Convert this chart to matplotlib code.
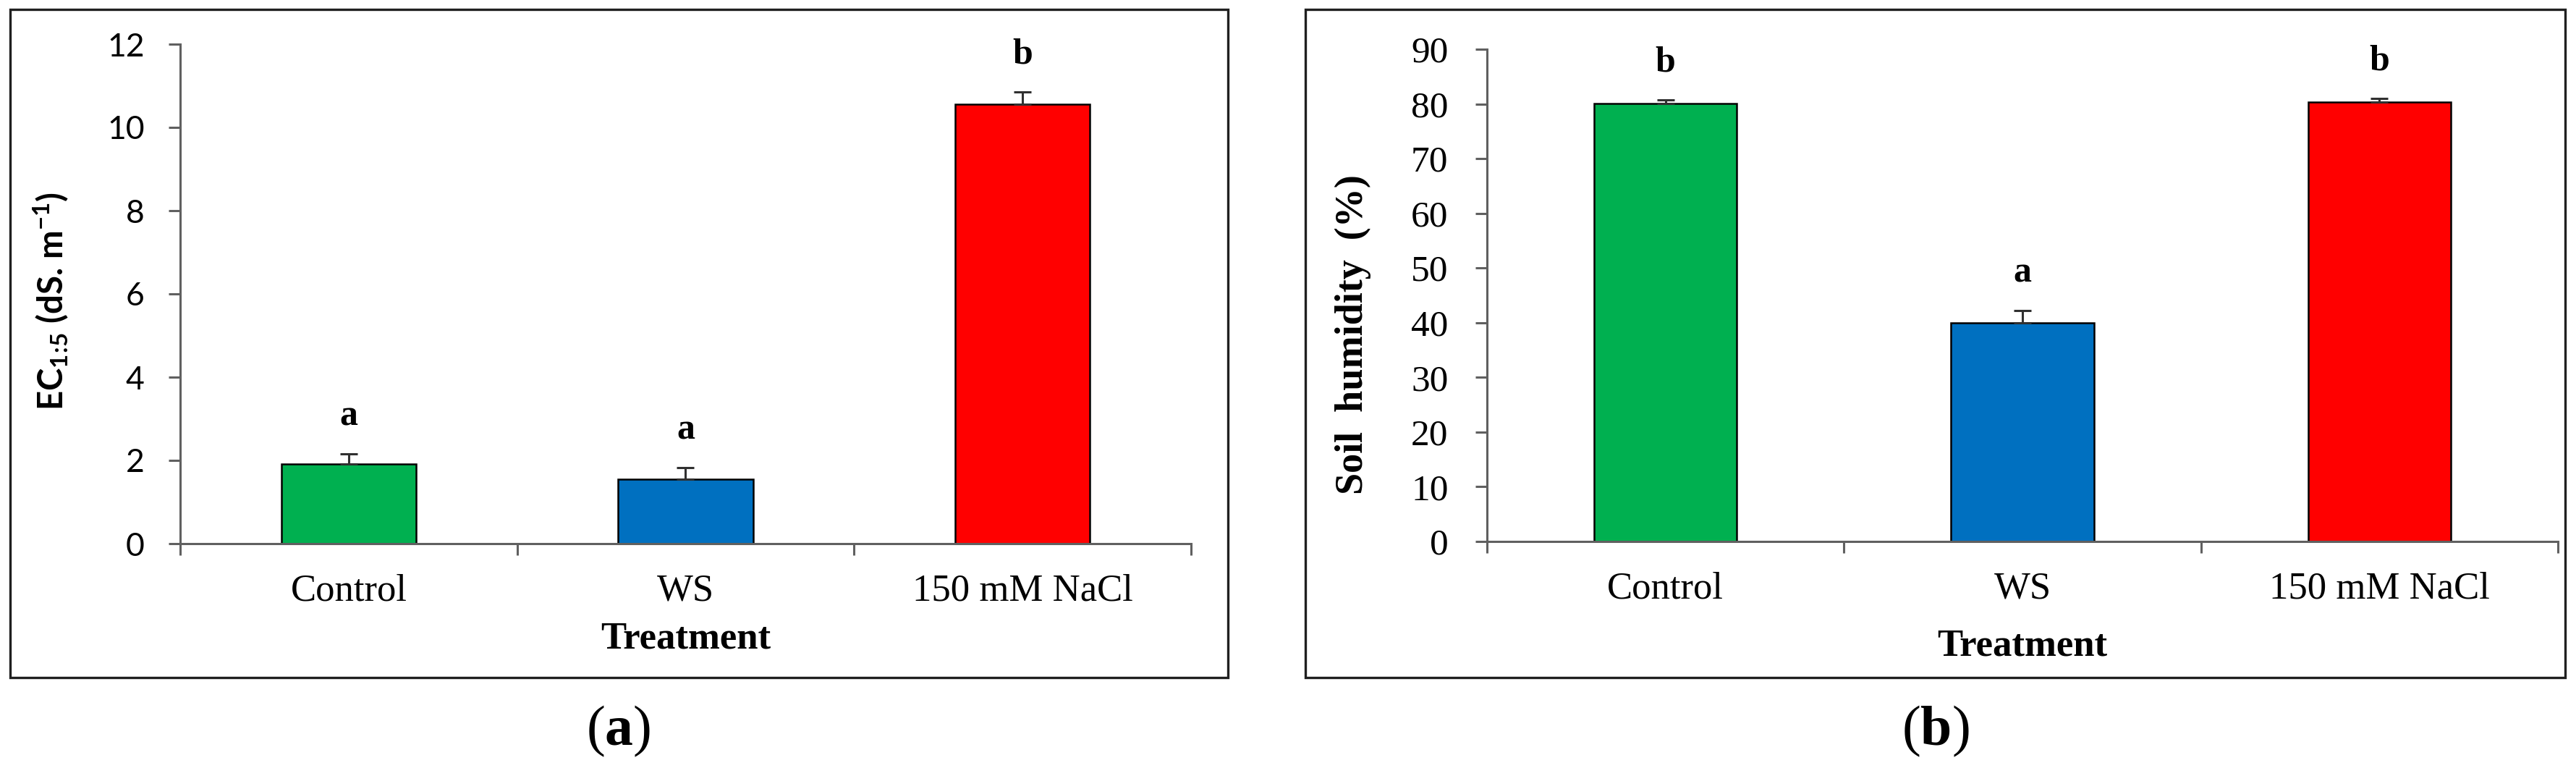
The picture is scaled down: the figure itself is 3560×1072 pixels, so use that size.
import matplotlib
matplotlib.use("Agg")
import matplotlib.pyplot as plt
import matplotlib.patches as patches
import numpy as np

plt.rcParams['mathtext.fontset'] = 'custom'
plt.rcParams['mathtext.bf'] = 'Liberation Serif:bold'
plt.rcParams['mathtext.default'] = 'regular'

treatments = ['Control', 'WS', '150 mM NaCl']
bar_colors = ['#00B050', '#0070C0', '#FF0000']

ec_mean = [1.92, 1.55, 10.56]
ec_err = [0.24, 0.27, 0.30]
ec_letters = ['a', 'a', 'b']

hum_mean = [80.1, 40.0, 80.4]
hum_err = [0.6, 2.25, 0.6]
hum_letters = ['b', 'a', 'b']

SERIF = 'Liberation Serif'
W, H = 3560, 1072

fig = plt.figure(figsize=(W / 100, H / 100), dpi=100)


def px_box(x0, y0, x1, y1):
    # pixel corners -> figure fraction rect
    return [x0 / W, 1 - y1 / H, (x1 - x0) / W, (y1 - y0) / H]


def draw_panel(rect, means, errs, letters, yticks, tick_font, tick_size, tick_pad):
    ax = fig.add_axes(rect)
    x = np.arange(len(treatments))
    ax.bar(x, means, width=0.4, color=bar_colors, edgecolor='black', linewidth=1.8, zorder=2)
    ax.errorbar(x, means, yerr=[np.zeros(len(errs)), errs], fmt='none', ecolor='#303030',
                elinewidth=2.2, capsize=8.5, capthick=2.2, zorder=3)
    for xi, m, e, lt in zip(x, means, errs, letters):
        ax.annotate(lt, (xi, m + e), xytext=(0, 37), textcoords='offset points',
                    ha='center', va='center', fontsize=36, fontweight='bold', family=SERIF)
    ax.set_xlim(-0.5, len(treatments) - 0.5)
    ax.set_ylim(yticks[0], yticks[-1])
    ax.set_yticks(yticks)
    ax.set_yticklabels([str(v) for v in yticks], family=tick_font, fontsize=tick_size)
    ax.set_xticks(x)
    ax.set_xticklabels(treatments, family=SERIF, fontsize=38)
    ax.set_xticks(np.arange(len(treatments) + 1) - 0.5, minor=True)
    ax.tick_params(axis='x', which='major', length=0, pad=30)
    ax.tick_params(axis='x', which='minor', length=11.5, width=2.2, color='#606060', direction='out')
    ax.tick_params(axis='y', length=11.5, width=2.2, color='#606060', direction='out', pad=tick_pad)
    for s in ['top', 'right']:
        ax.spines[s].set_visible(False)
    for s in ['left', 'bottom']:
        ax.spines[s].set_color('#606060')
        ax.spines[s].set_linewidth(2.2)
    ax.set_facecolor('none')
    return ax


# panel (a)
ax1 = draw_panel(px_box(249, 61, 1646, 751), ec_mean, ec_err, ec_letters,
                 list(range(0, 13, 2)), 'Lato', 32, 24)
ax1.set_ylabel(r'EC$_{1\!:\!5}$ (dS. m$^{-1}$)', family='Lato', fontweight='bold', fontsize=34)
ax1.yaxis.set_label_coords(-0.109, 0.486)
ax1.text(0.5, -0.209, 'Treatment', transform=ax1.transAxes, ha='center', va='baseline',
         family=SERIF, fontweight='bold', fontsize=38)

# panel (b)
ax2 = draw_panel(px_box(2055, 68, 3535, 748), hum_mean, hum_err, hum_letters,
                 list(range(0, 91, 10)), SERIF, 37, 27)
ax2.set_ylabel('Soil  humidity  (%)', family=SERIF, fontweight='bold', fontsize=39)
ax2.yaxis.set_label_coords(-0.108, 0.42)
ax2.text(0.5, -0.232, 'Treatment', transform=ax2.transAxes, ha='center', va='baseline',
         family=SERIF, fontweight='bold', fontsize=38)

# frames around each panel
for x0, x1 in [(14, 1697), (1804, 3545)]:
    r = px_box(x0, 13, x1, 936)
    fig.add_artist(patches.Rectangle((r[0], r[1]), r[2], r[3], transform=fig.transFigure,
                                     fill=False, edgecolor='#202020', linewidth=2.4))

fig.text(855 / W, 1 - 1010 / H, r'($\mathbf{a}$)', ha='center', va='center', family=SERIF, fontsize=56)
fig.text(2675 / W, 1 - 1010 / H, r'($\mathbf{b}$)', ha='center', va='center', family=SERIF, fontsize=56)

fig.savefig('out.png', dpi=100, facecolor='white')
